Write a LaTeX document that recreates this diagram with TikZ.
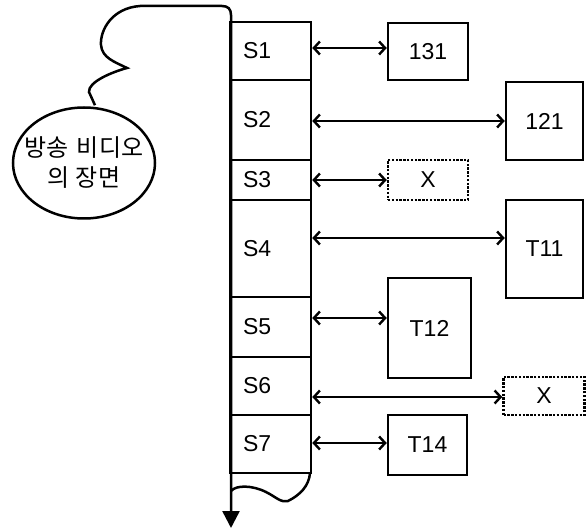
\documentclass[tikz,border=0pt]{standalone}
\usepackage{fontspec}
\setmainfont{Liberation Sans}
\newfontfamily\kofont{Noto Sans CJK KR}
\usetikzlibrary{arrows.meta,shapes.geometric}
\begin{document}
\begin{tikzpicture}[x=1pt,y=-1pt, line width=2.5pt,
  every node/.style={line width=2.5pt},
  cell/.style={draw, rectangle, minimum width=79pt, text width=55pt,
    inner xsep=13pt, align=left, font=\fontsize{23}{24}\selectfont},
  box/.style={draw, rectangle, font=\fontsize{23}{24}\selectfont},
  ghost/.style={box, dash pattern=on 2.4pt off 1.4pt},
  link/.style={line width=2.4pt,
    {Straight Barb[length=6pt,width=13pt]}-{Straight Barb[length=6pt,width=13pt]}},
  flow/.style={line width=2.5pt, -{Triangle[length=17pt,width=17pt]}}]
\useasboundingbox (0,0) rectangle (586,529);

% the scene bubble and its caption
\node[draw, ellipse, minimum width=142pt, minimum height=111pt] (scene) at (84,163) {};
\node[align=center, inner sep=0pt, font=\fontsize{24}{30}\kofont] (caption)
  at (scene.center) {방송\hspace{8pt}비디오\\의\hspace{6pt}장면};

% video strip: segments S1..S7
\node[cell, minimum height=58pt] (s1) at (270.5,51) {S1};
\node[cell, minimum height=80pt] (s2) at (270.5,120) {S2};
\node[cell, minimum height=40pt] (s3) at (270.5,180) {S3};
\node[cell, minimum height=97pt] (s4) at (270.5,248.5) {S4};
\node[cell, minimum height=60pt] (s5) at (270.5,327) {S5};
\node[cell, minimum height=58pt] (s6) at (270.5,386) {S6};
\node[cell, minimum height=58pt] (s7) at (270.5,444) {S7};

% torn lower end of the strip
\coordinate (tearL) at (231,491);
\coordinate (tearR) at (310,473);
\draw (tearL) .. controls (236,485) and (252,485) .. (266,492)
  .. controls (276,497) and (281,503) .. (288,501)
  .. controls (300,495) and (309,486) .. (tearR);

% tail from the bubble running into the strip, then onward in time
\coordinate (tip) at (231,528);
\draw[flow] (scene.north) ++(11,-1) coordinate (tail)
  -- (89,92) .. controls (88,82) and (112,72) .. (127,68)
  .. controls (115,62) and (102,58) .. (101,45)
  .. controls (100,30) and (112,8) .. (140,6)
  -- (222,6) .. controls (228,6) and (231,9) .. (231,15)
  -- (tip);

% matched items
\node[box, minimum width=80pt, minimum height=57pt] (b131) at (428,51.5) {131};
\node[box, minimum width=77pt, minimum height=78pt] (b121) at (544.5,121) {121};
\node[ghost, minimum width=80pt, minimum height=40pt] (x1) at (428,180) {X};
\node[box, minimum width=77pt, minimum height=98pt] (t11) at (544.5,249) {T11};
\node[box, minimum width=83pt, minimum height=100pt] (t12) at (429.5,328) {T12};
\node[ghost, minimum width=81pt, minimum height=38pt] (x2) at (544,396) {X};
\node[box, minimum width=79pt, minimum height=60pt] (t14) at (427.5,445) {T14};

% heights of the links
\coordinate (a1) at (0,48);
\coordinate (a2) at (0,121);
\coordinate (a3) at (0,180);
\coordinate (a4) at (0,238);
\coordinate (a5) at (0,318);
\coordinate (a6) at (0,397);
\coordinate (a7) at (0,443);

\draw[link] (s1.east |- a1) -- (b131.west |- a1);
\draw[link] (s2.east |- a2) -- (b121.west |- a2);
\draw[link] (s3.east |- a3) -- (x1.west |- a3);
\draw[link] (s4.east |- a4) -- (t11.west |- a4);
\draw[link] (s5.east |- a5) -- (t12.west |- a5);
\draw[link] (s6.east |- a6) -- (x2.west |- a6);
\draw[link] (s7.east |- a7) -- (t14.west |- a7);
\end{tikzpicture}
\end{document}
